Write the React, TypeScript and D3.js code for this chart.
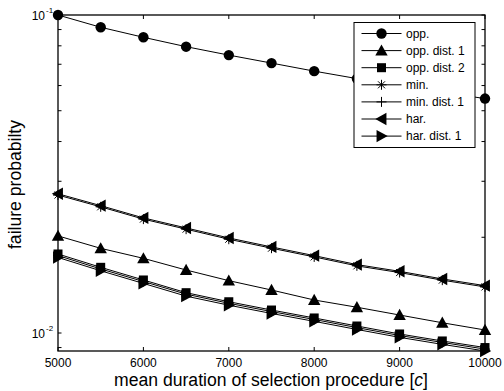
import React from "react";
import * as d3 from "d3";

const xValues = [5000, 5500, 6000, 6500, 7000, 7500, 8000, 8500, 9000, 9500, 10000];

const opp = [0.1, 0.0915, 0.0851, 0.0795, 0.0748, 0.0706, 0.0666, 0.0631, 0.06, 0.0571, 0.0546];
const oppDist1 = [0.0202, 0.01846, 0.01717, 0.01578, 0.01461, 0.01365, 0.0127, 0.01205, 0.01139, 0.01077, 0.01022];
const oppDist2 = [0.01772, 0.01609, 0.01468, 0.01339, 0.01254, 0.01181, 0.01115, 0.01052, 0.00993, 0.00944, 0.009];
const minS = [0.02715, 0.02493, 0.02281, 0.02121, 0.01972, 0.01848, 0.01735, 0.01626, 0.01549, 0.01466, 0.01396];
const minDist1 = [0.01752, 0.0159, 0.01452, 0.01325, 0.0124, 0.01168, 0.01103, 0.0104, 0.00982, 0.00934, 0.0089];
const har = [0.0274, 0.02515, 0.02301, 0.0214, 0.0199, 0.01865, 0.01751, 0.01641, 0.01563, 0.01479, 0.01409];
const harDist1 = [0.01728, 0.01569, 0.01432, 0.01306, 0.01223, 0.01152, 0.01088, 0.01026, 0.00969, 0.00921, 0.00878];

const seriesNames = ["opp.", "opp. dist. 1", "opp. dist. 2", "min.", "min. dist. 1", "har.", "har. dist. 1"];
const seriesMarkers = ["circle", "triUp", "square", "star", "plus", "triLeft", "triRight"];
const seriesData = [opp, oppDist1, oppDist2, minS, minDist1, har, harDist1];

const xTicks = [5000, 6000, 7000, 8000, 9000, 10000];
const yMajorTicks = [0.01, 0.1];
const yMinorTicks = [0.009, 0.02, 0.03, 0.04, 0.05, 0.06, 0.07, 0.08, 0.09];

const W = 504;
const H = 391;
const L = 58, R = 485, T = 15, B = 351;
const FONT = "'Liberation Sans', Arial, Helvetica, sans-serif";

function Marker({ type, x, y }: { type: string; x: number; y: number }) {
  switch (type) {
    case "circle":
      return <circle cx={x} cy={y} r={5.2} fill="#000" />;
    case "square":
      return <rect x={x - 4.5} y={y - 4.5} width={9} height={9} fill="#000" />;
    case "triUp": {
      const s = 6.2;
      return <polygon points={`${x},${y - s} ${x - s},${y + s * 0.8} ${x + s},${y + s * 0.8}`} fill="#000" />;
    }
    case "triLeft": {
      const s = 6.2;
      return <polygon points={`${x - s},${y} ${x + s * 0.8},${y - s} ${x + s * 0.8},${y + s}`} fill="#000" />;
    }
    case "triRight": {
      const s = 6.2;
      return <polygon points={`${x + s},${y} ${x - s * 0.8},${y - s} ${x - s * 0.8},${y + s}`} fill="#000" />;
    }
    case "plus": {
      const s = 5;
      return (
        <g stroke="#000" strokeWidth={1}>
          <line x1={x - s} y1={y} x2={x + s} y2={y} />
          <line x1={x} y1={y - s} x2={x} y2={y + s} />
        </g>
      );
    }
    case "star": {
      const s = 5;
      const d = s * 0.7;
      return (
        <g stroke="#000" strokeWidth={1}>
          <line x1={x - s} y1={y} x2={x + s} y2={y} />
          <line x1={x} y1={y - s} x2={x} y2={y + s} />
          <line x1={x - d} y1={y - d} x2={x + d} y2={y + d} />
          <line x1={x - d} y1={y + d} x2={x + d} y2={y - d} />
        </g>
      );
    }
  }
  return null;
}

export default function App() {
  const x = d3.scaleLinear().domain([5000, 10000]).range([L, R]);
  const yBottom = Math.pow(10, -2 - 18 / 318);
  const y = d3.scaleLog().domain([yBottom, 0.1]).range([B, T]);

  const line = d3
    .line<number>()
    .x((_, i) => x(xValues[i]))
    .y((d) => y(d));

  const legX = 354, legY = 22.5, legW = 121, legH = 125;
  const legRow = 17.1;

  return (
    <svg width={W} height={H} style={{ position: "absolute", left: 0, top: 0, background: "#fff" }}>
      <rect x={0} y={0} width={W} height={H} fill="#fff" />
      {/* series */}
      {seriesData.map((data, si) => (
        <g key={si}>
          <path d={line(data) || ""} fill="none" stroke="#000" strokeWidth={1} />
          {data.map((v, i) => (
            <Marker key={i} type={seriesMarkers[si]} x={x(xValues[i])} y={y(v)} />
          ))}
        </g>
      ))}
      {/* axes box */}
      <rect x={L} y={T} width={R - L} height={B - T} fill="none" stroke="#000" strokeWidth={1.3} />
      {/* x ticks */}
      {xTicks.map((t) => (
        <g key={t}>
          <line x1={x(t)} y1={B} x2={x(t)} y2={B - 4} stroke="#000" strokeWidth={1} />
          <line x1={x(t)} y1={T} x2={x(t)} y2={T + 4} stroke="#000" strokeWidth={1} />
          <text x={x(t)} y={367} textAnchor="middle" fontFamily={FONT} fontSize={12} fill="#000">
            {t}
          </text>
        </g>
      ))}
      {/* y ticks */}
      {[...yMajorTicks, ...yMinorTicks].map((t) => (
        <g key={t}>
          <line x1={L} y1={y(t)} x2={L + 3.5} y2={y(t)} stroke="#000" strokeWidth={1} />
          <line x1={R} y1={y(t)} x2={R - 3.5} y2={y(t)} stroke="#000" strokeWidth={1} />
        </g>
      ))}
      {yMajorTicks.map((t) => (
        <text key={t} x={45} y={y(t) + 4.5} textAnchor="end" fontFamily={FONT} fontSize={12} fill="#000">
          10
          <tspan x={46} dy={-7} fontSize={8} textAnchor="start">
            {`-${Math.round(-Math.log10(t))}`}
          </tspan>
        </text>
      ))}
      {/* axis labels */}
      <text x={271} y={386} textAnchor="middle" fontFamily={FONT} fontSize={17.6} fill="#000">
        mean duration of selection procedure [<tspan fontStyle="italic">c</tspan>]
      </text>
      <text
        transform={`translate(21,184.5) rotate(-90)`}
        textAnchor="middle"
        fontFamily={FONT}
        fontSize={17.6}
        fill="#000"
      >
        failure probabilty
      </text>
      {/* legend */}
      <rect x={legX} y={legY} width={legW} height={legH} fill="#fff" stroke="#000" strokeWidth={1} />
      {seriesNames.map((name, i) => {
        const cy = legY + 11 + i * legRow;
        return (
          <g key={name}>
            <line x1={361.5} y1={cy} x2={401.5} y2={cy} stroke="#000" strokeWidth={1} />
            <Marker type={seriesMarkers[i]} x={381.5} y={cy} />
            <text x={406} y={cy + 4.3} fontFamily={FONT} fontSize={12} fill="#000">
              {name}
            </text>
          </g>
        );
      })}
    </svg>
  );
}
